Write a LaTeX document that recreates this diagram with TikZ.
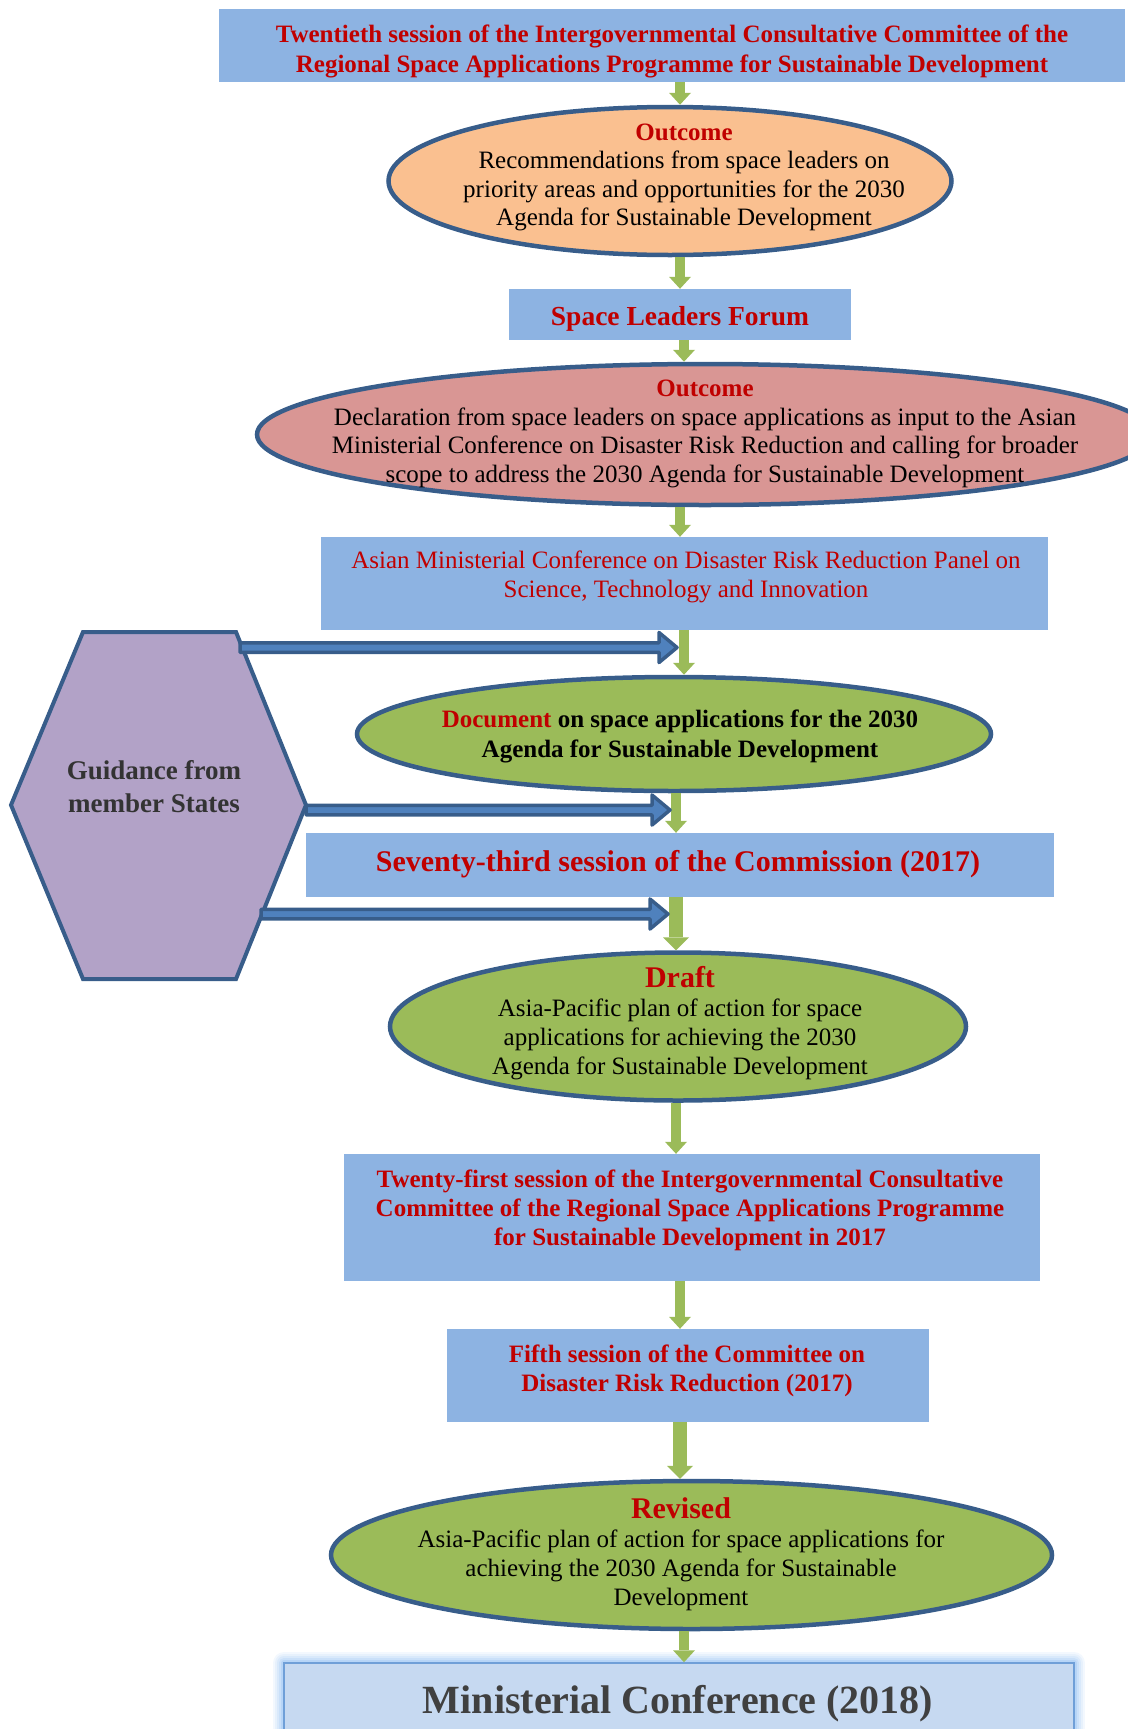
\documentclass[tikz,border=0pt]{standalone}
\usepackage{fontspec}
\setmainfont{Liberation Serif}
\usetikzlibrary{arrows.meta,calc,shapes.geometric}
\definecolor{boxblue}{HTML}{8DB3E2}
\definecolor{dred}{HTML}{C00000}
\definecolor{orng}{HTML}{FAC090}
\definecolor{rose}{HTML}{D99694}
\definecolor{lgreen}{HTML}{9BBB59}
\definecolor{edgeblue}{HTML}{385D8A}
\definecolor{lav}{HTML}{B2A2C7}
\definecolor{barfill}{HTML}{4F81BD}
\definecolor{minfill}{HTML}{C6D9F1}
\definecolor{minedge}{HTML}{6F9FD8}
\definecolor{glowblue}{HTML}{8CBBF2}
\definecolor{dgray}{HTML}{404040}
\definecolor{hexgray}{HTML}{333333}
\tikzset{
 bluebox/.style={rectangle, fill=boxblue, draw=none, inner sep=0pt},
 oval/.style={ellipse, draw=edgeblue, line width=4.5pt, inner sep=0pt},
 txt/.style={align=center, inner sep=0pt},
 garrow/.style={draw=lgreen, line width=10pt, -{Triangle[width=22pt,length=12pt,line width=0pt]}},
 garrowthick/.style={draw=lgreen, line width=14pt, -{Triangle[width=26pt,length=13pt,line width=0pt]}},
 barrow/.style={draw=edgeblue, line width=3.5pt, fill=barfill, line join=round},
 hexa/.style={draw=edgeblue, line width=4pt, fill=lav, line join=miter},
 minbox/.style={rectangle, fill=minfill, draw=minedge, line width=1.5pt, inner sep=0pt,
   preaction={draw=glowblue, line width=22pt, opacity=0.10, line join=round},
   preaction={draw=glowblue, line width=18pt, opacity=0.12, line join=round},
   preaction={draw=glowblue, line width=14pt, opacity=0.15, line join=round},
   preaction={draw=glowblue, line width=10pt, opacity=0.2, line join=round},
   preaction={draw=glowblue, line width=6pt, opacity=0.3, line join=round}},
}
\newcommand\bluearrow[2]{%
 \path[barrow] let \p1=(#1), \p2=(#2) in
   (\x1,\y1+4.75pt) -- (\x2-20pt,\y1+4.75pt) -- (\x2-20pt,\y1+15pt) -- (\x2-2pt,\y1)
   -- (\x2-20pt,\y1-15pt) -- (\x2-20pt,\y1-4.75pt) -- (\x1,\y1-4.75pt) -- cycle;}
\begin{document}
\begin{tikzpicture}[x=1pt,y=-1pt]
\useasboundingbox (0,0) rectangle (1127,1729);
\coordinate (ax) at (680,0);
\coordinate (axR) at (684,0);
\coordinate (axL) at (676,0);

% shapes
\node[bluebox, minimum width=906pt, minimum height=73pt] (top) at (672,45.5) {};
\node[oval, fill=orng, minimum width=563pt, minimum height=148pt] (oc1) at (670,181) {};
\node[bluebox, minimum width=342pt, minimum height=51pt] (slf) at (680,314.5) {};
\node[oval, fill=rose, minimum width=896pt, minimum height=141pt] (oc2) at (705,434.5) {};
\node[bluebox, minimum width=727pt, minimum height=93pt] (asian) at (684.5,583.5) {};
\node[oval, fill=lgreen, minimum width=634pt, minimum height=114pt] (doc) at (674,734) {};
\node[bluebox, minimum width=748pt, minimum height=64pt] (sev) at (680,865) {};
\node[oval, fill=lgreen, minimum width=576pt, minimum height=148pt] (draft) at (678,1026.5) {};
\node[bluebox, minimum width=696pt, minimum height=127pt] (tw1) at (692,1217.5) {};
\node[bluebox, minimum width=482pt, minimum height=93pt] (fifth) at (688,1375.5) {};
\node[oval, fill=lgreen, minimum width=721pt, minimum height=148pt] (rev) at (691.5,1555) {};
\node[minbox, minimum width=790pt, minimum height=97pt] (min) at (679,1711.5) {};

% hexagon
\coordinate (hx1) at (83,632);
\coordinate (hx2) at (236,632);
\coordinate (hx3) at (306,805);
\coordinate (hx4) at (236,979);
\coordinate (hx5) at (83,979);
\coordinate (hx6) at (11,805);
\draw[hexa] (hx1) -- (hx2) -- (hx3) -- (hx4) -- (hx5) -- (hx6) -- cycle;

% texts
\node[txt, text=dred, font=\bfseries\fontsize{25}{30}\selectfont] (topT) at (672,51)
 {Twentieth session of the Intergovernmental Consultative Committee of the\\Regional Space Applications Programme for Sustainable Development};
\node[txt, font=\fontsize{25}{28.5}\selectfont] (oc1T) at (684,177.5)
 {\textcolor{dred}{\bfseries Outcome}\\Recommendations from space leaders on\\priority areas and opportunities for the 2030\\Agenda for Sustainable Development};
\node[txt, text=dred, font=\bfseries\fontsize{27.5}{32}\selectfont] (slfT) at (680,319) {Space Leaders Forum};
\node[txt, font=\fontsize{25}{28.7}\selectfont] (oc2T) at (705,434)
 {\textcolor{dred}{\bfseries Outcome}\\Declaration from space leaders on space applications as input to the Asian\\Ministerial Conference on Disaster Risk Reduction and calling for broader\\scope to address the 2030 Agenda for Sustainable Development};
\node[txt, text=dred, font=\fontsize{25}{29}\selectfont] (asianT) at (686,576.5)
 {Asian Ministerial Conference on Disaster Risk Reduction Panel on\\Science, Technology and Innovation};
\node[txt, font=\bfseries\fontsize{25}{30}\selectfont] (docT) at (680,736)
 {\textcolor{dred}{Document} on space applications for the 2030\\Agenda for Sustainable Development};
\node[txt, text=dred, font=\bfseries\fontsize{30}{34}\selectfont] (sevT) at (678,864)
 {Seventy-third session of the Commission (2017)};
\node[txt, font=\fontsize{25}{29}\selectfont] (draftT) at (680,1023.5)
 {\textcolor{dred}{\fontsize{30}{34}\selectfont\bfseries Draft}\\Asia-Pacific plan of action for space\\applications for achieving the 2030\\Agenda for Sustainable Development};
\node[txt, text=dred, font=\bfseries\fontsize{25}{29}\selectfont] (tw1T) at (690,1210)
 {Twenty-first session of the Intergovernmental Consultative\\Committee of the Regional Space Applications Programme\\for Sustainable Development in 2017};
\node[txt, text=dred, font=\bfseries\fontsize{25}{29}\selectfont] (fifthT) at (687,1370.5)
 {Fifth session of the Committee on\\Disaster Risk Reduction (2017)};
\node[txt, font=\fontsize{25}{29}\selectfont] (revT) at (681,1554.5)
 {\textcolor{dred}{\fontsize{30}{34}\selectfont\bfseries Revised}\\Asia-Pacific plan of action for space applications for\\achieving the 2030 Agenda for Sustainable\\Development};
\node[txt, text=dgray, font=\bfseries\fontsize{40}{46}\selectfont] (minT) at (678,1704) {Ministerial Conference (2018)};
\node[txt, text=hexgray, font=\bfseries\fontsize{27}{33}\selectfont] (guidT) at (154,786.5) {Guidance from\\member States};

% green arrows
\draw[garrow] (top.south -| ax) -- (oc1.north -| ax);
\draw[garrow] (oc1.south -| ax) -- (slf.north -| ax);
\draw[garrow] (slf.south -| axR) -- (oc2.north -| axR);
\draw[garrow] (oc2.south -| ax) -- (asian.north -| ax);
\draw[garrow] (asian.south -| axR) -- (doc.north -| axR);
\draw[garrow] (doc.south -| axL) -- (sev.north -| axL);
\draw[garrowthick] (sev.south -| axL) -- (draft.north -| axL);
\draw[garrow] (draft.south -| axL) -- (tw1.north -| axL);
\draw[garrow] (tw1.south -| ax) -- (fifth.north -| ax);
\draw[garrowthick] (fifth.south -| ax) -- (rev.north -| ax);
\draw[garrow] (rev.south -| axR) -- (min.north -| axR);

% blue block arrows from the hexagon
\coordinate (b1s) at (240,647.5);
\coordinate (b1e) at (679,647.5);
\coordinate (b2s) at (306,810);
\coordinate (b2e) at (672,810);
\coordinate (b3s) at (261,914);
\coordinate (b3e) at (670,914);
\bluearrow{b1s}{b1e}
\bluearrow{b2s}{b2e}
\bluearrow{b3s}{b3e}
\end{tikzpicture}
\end{document}
